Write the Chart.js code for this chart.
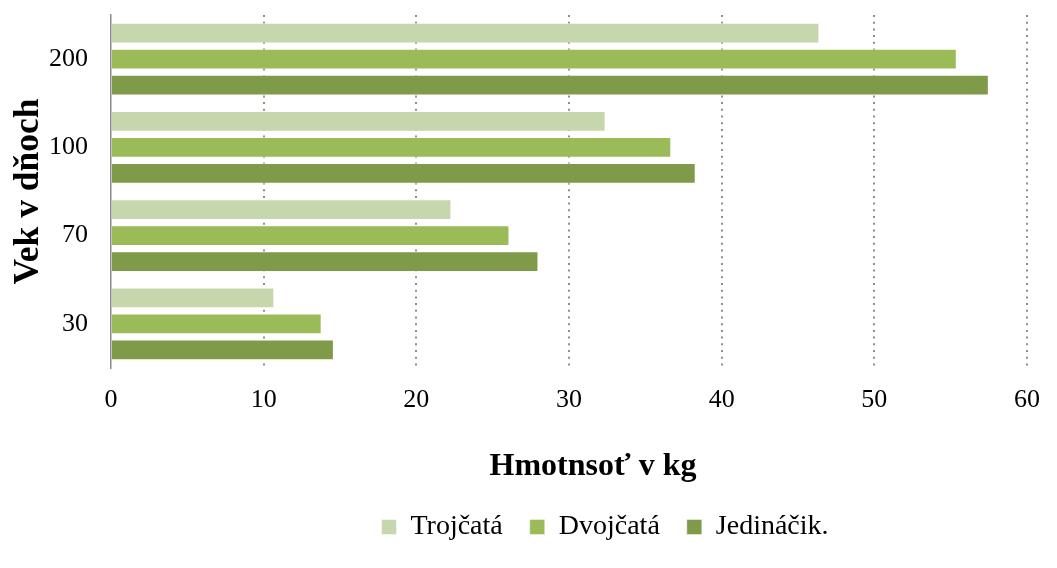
<!DOCTYPE html>
<html>
<head>
<meta charset="utf-8">
<script src="https://cdn.jsdelivr.net/npm/chart.js@4/dist/chart.umd.min.js"></script>
<style>
  html, body { margin: 0; padding: 0; background: #fff; }
  #wrap { width: 1057px; height: 568px; }
</style>
</head>
<body>
<div id="wrap"><canvas id="chart"></canvas></div>
<script>
// vek v dňoch (zhora nadol)
const categories = ['200', '100', '70', '30'];
const seriesNames = ['Trojčatá', 'Dvojčatá', 'Jedináčik.'];
const trojcata = [46.4, 32.4, 22.3, 10.7];
const dvojcata = [55.4, 36.7, 26.1, 13.8];
const jedinacik = [57.5, 38.3, 28.0, 14.6];
const xTicks = [0, 10, 20, 30, 40, 50, 60];

const colors = ['#c6d7ad', '#9bbb59', '#7f9a48'];
const serif = "'Liberation Serif', 'Times New Roman', serif";

// legenda je v origináli posunutá doprava
const legendShift = {
    id: 'legendShift',
    afterLayout(chart) {
        if (chart.legend) chart.legend.left += 170;
    }
};

const ctx = document.getElementById('chart');
new Chart(ctx, {
    type: 'bar',
    data: {
        labels: categories,
        datasets: [trojcata, dvojcata, jedinacik].map((vals, i) => ({
            label: seriesNames[i],
            data: vals,
            backgroundColor: colors[i],
            borderColor: 'rgba(255,255,255,0.45)',
            borderWidth: 1,
            categoryPercentage: 0.884,
            barPercentage: 0.8
        }))
    },
    plugins: [legendShift],
    options: {
        indexAxis: 'y',
        responsive: true,
        maintainAspectRatio: false,
        animation: false,
        layout: { padding: { top: 15, right: 17, left: 0, bottom: 17 } },
        plugins: {
            tooltip: { enabled: false },
            legend: {
                position: 'bottom',
                labels: {
                    boxWidth: 15,
                    boxHeight: 15,
                    padding: 27,
                    color: '#000',
                    font: { family: serif, size: 28 }
                }
            }
        },
        scales: {
            x: {
                min: 0,
                max: 60,
                afterBuildTicks: scale => { scale.ticks = xTicks.map(v => ({ value: v })); },
                afterFit: scale => { scale.height = 118; },
                ticks: {
                    color: '#000',
                    padding: 17,
                    maxRotation: 0,
                    font: { family: serif, size: 26 }
                },
                grid: {
                    drawTicks: false,
                    lineWidth: 2,
                    color: c => (c.tick && c.tick.value === 0) ? 'rgba(0,0,0,0)' : '#8e8e8e'
                },
                border: { display: false, dash: [2, 4.7] },
                title: {
                    display: true,
                    text: '\u2002\u2002\u2002Hmotnsoť v kg',
                    color: '#000',
                    padding: { top: 0, bottom: 0 },
                    font: { family: serif, size: 32, weight: 'bold' }
                }
            },
            y: {
                afterFit: scale => {
                    scale.width = 111;
                    scale.paddingTop = 0;
                    scale.paddingBottom = 0;
                },
                ticks: {
                    color: '#000',
                    padding: 23,
                    font: { family: serif, size: 26 }
                },
                grid: { display: false, drawTicks: false },
                border: { display: true, color: '#8a8a8a', width: 1.5 },
                title: {
                    display: true,
                    text: 'Vek v dňoch',
                    color: '#000',
                    padding: { top: 8, bottom: 0 },
                    font: { family: serif, size: 35.5, weight: 'bold' }
                }
            }
        }
    }
});
</script>
</body>
</html>
